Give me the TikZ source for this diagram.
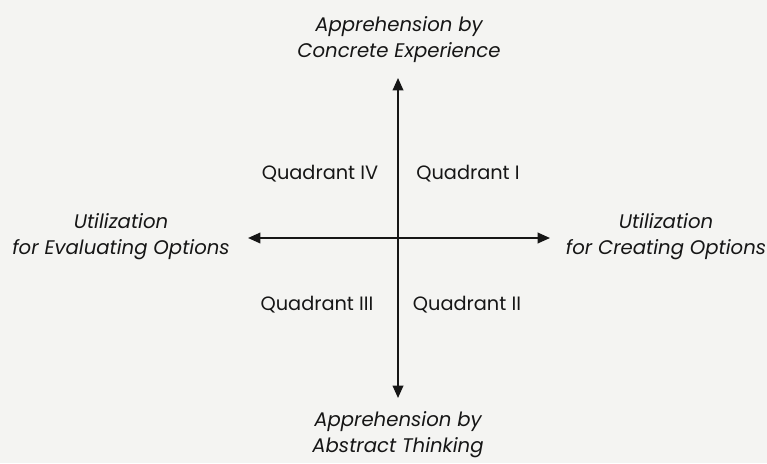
\documentclass[tikz,border=0pt]{standalone}
\usepackage{fontspec}
\setmainfont{Poppins}
\usepackage{tikz}
\usetikzlibrary{arrows.meta,positioning}
\definecolor{paper}{HTML}{F4F4F2}
\definecolor{ink}{HTML}{161616}

\begin{document}
\begin{tikzpicture}[
    axis/.style={ink,line width=1pt,{Triangle[length=7pt,width=6pt]}-{Triangle[length=7pt,width=6pt]}},
    pole/.style={ink,font=\fontsize{11.2}{14.8}\selectfont\itshape,align=center},
    quad/.style={ink,font=\fontsize{11}{13}\selectfont}]
  % paper
  \fill[paper] (0,0) rectangle (15.34,9.26);
  \useasboundingbox (0,0) rectangle (15.34,9.26);

  % axis ends
  \coordinate (top) at (7.96,7.70);
  \coordinate (bottom) at (7.96,1.30);
  \coordinate (left) at (4.96,4.50);
  \coordinate (right) at (11.00,4.50);
  \draw[axis] (bottom) -- (top);
  \draw[axis] (left) -- (right);

  % poles
  \node[pole] (concrete) at (7.98,8.46) {Apprehension by\\Concrete Experience};
  \node[pole] (abstract) at (7.96,0.56) {Apprehension by\\Abstract Thinking};
  \node[pole] (evaluating) at (2.42,4.52) {Utilization\\for Evaluating Options};
  \node[pole] (creating) at (13.32,4.52) {Utilization\\for Creating Options};

  % quadrants
  \node[quad] (q4) at (6.40,5.78) {Quadrant IV};
  \node[quad] (q1) at (9.36,5.78) {Quadrant I};
  \node[quad] (q3) at (6.34,3.16) {Quadrant III};
  \node[quad] (q2) at (9.34,3.16) {Quadrant II};
\end{tikzpicture}
\end{document}
